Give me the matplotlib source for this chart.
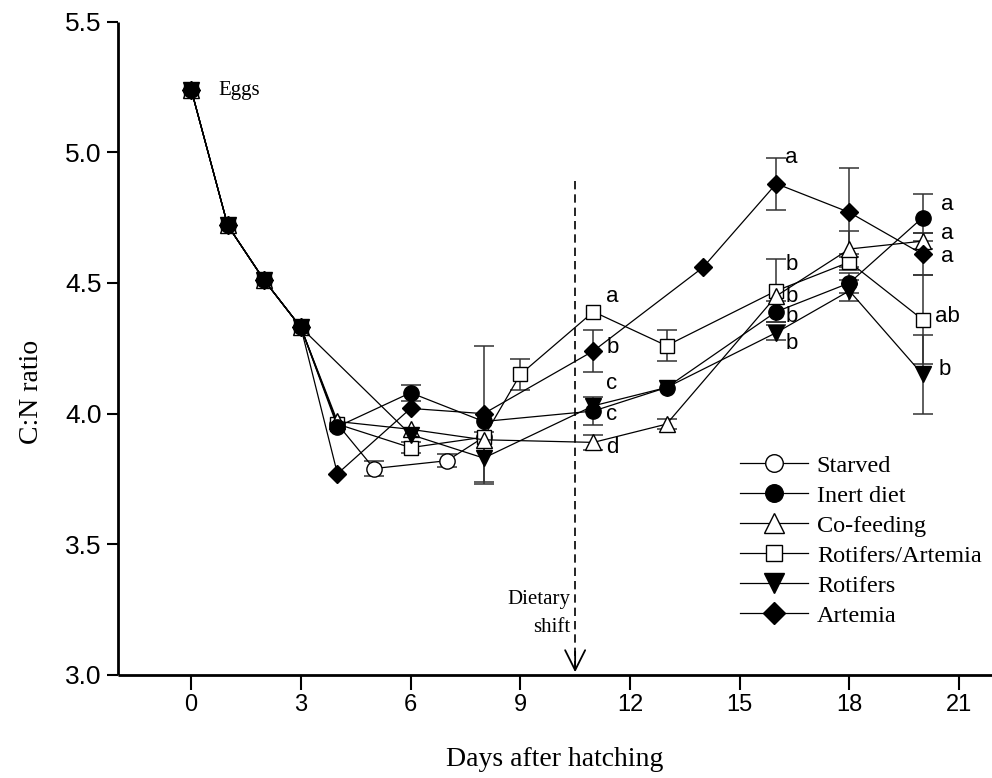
import matplotlib
matplotlib.use("Agg")
import matplotlib.pyplot as plt
import numpy as np

# ---------------- data ----------------
starved_x = [0, 1, 2, 3, 4, 5, 7, 8]
starved_y = [5.24, 4.72, 4.51, 4.33, 3.96, 3.79, 3.82, 3.91]
starved_e = [0, 0, 0, 0, 0, 0.03, 0.025, 0]

inert_x = [0, 1, 2, 3, 4, 6, 8, 11, 13, 16, 18, 20]
inert_y = [5.24, 4.72, 4.51, 4.33, 3.95, 4.08, 3.97, 4.01, 4.10, 4.39, 4.50, 4.75]
inert_e = [0, 0, 0, 0, 0, 0.03, 0, 0.055, 0, 0.04, 0.04, 0.09]

cofeed_x = [0, 1, 2, 3, 4, 6, 8, 11, 13, 16, 18, 20]
cofeed_y = [5.24, 4.72, 4.51, 4.33, 3.97, 3.94, 3.90, 3.89, 3.96, 4.45, 4.63, 4.66]
cofeed_e = [0, 0, 0, 0, 0, 0, 0, 0.03, 0.02, 0, 0.07, 0.03]

rotart_x = [0, 1, 2, 3, 4, 6, 8, 9, 11, 13, 16, 18, 20]
rotart_y = [5.24, 4.72, 4.51, 4.33, 3.96, 3.87, 3.91, 4.15, 4.39, 4.26, 4.47, 4.58, 4.36]
rotart_e = [0, 0, 0, 0, 0, 0.02, 0, 0.06, 0, 0.06, 0.12, 0.03, 0.17]

rotif_x = [0, 1, 2, 3, 6, 8, 11, 13, 16, 18, 20]
rotif_y = [5.24, 4.72, 4.51, 4.33, 3.92, 3.83, 4.03, 4.10, 4.31, 4.47, 4.15]
rotif_e = [0, 0, 0, 0, 0, 0.10, 0, 0, 0.03, 0.04, 0.15]

artem_x = [0, 1, 2, 3, 4, 6, 8, 11, 14, 16, 18, 20]
artem_y = [5.24, 4.72, 4.51, 4.33, 3.77, 4.02, 4.00, 4.24, 4.56, 4.88, 4.77, 4.61]
artem_e = [0, 0, 0, 0, 0, 0, 0.26, 0.08, 0, 0.10, 0.17, 0.08]

# significance letters
letters_x = [11.35, 11.35, 11.35, 11.35, 11.35,
             16.25, 16.25, 16.25, 16.25, 16.25,
             20.5, 20.5, 20.5, 20.35, 20.45]
letters_y = [4.45, 4.255, 4.115, 3.995, 3.87,
             4.98, 4.57, 4.45, 4.37, 4.27,
             4.80, 4.69, 4.60, 4.37, 4.17]
letters_t = ["a", "b", "c", "c", "d",
             "a", "b", "b", "b", "b",
             "a", "a", "a", "ab", "b"]

x_ticks = [0, 3, 6, 9, 12, 15, 18, 21]
y_ticks = [3.0, 3.5, 4.0, 4.5, 5.0, 5.5]

# ---------------- figure ----------------
fig = plt.figure(figsize=(9.92, 7.78), dpi=100)
ax = fig.add_axes([0.119, 0.1324, 0.881, 0.8398])

series = [
    ("Starved", starved_x, starved_y, starved_e, "o", "white", 11, 3.0),
    ("Inert diet", inert_x, inert_y, inert_e, "o", "black", 11, 3.6),
    ("Co-feeding", cofeed_x, cofeed_y, cofeed_e, "^", "white", 12, 3.4),
    ("Rotifers/Artemia", rotart_x, rotart_y, rotart_e, "s", "white", 10, 3.2),
    ("Rotifers", rotif_x, rotif_y, rotif_e, "v", "black", 12, 3.5),
    ("Artemia", artem_x, artem_y, artem_e, "D", "black", 9.5, 3.7),
]

for name, xs, ys, es, mk, fc, ms, z in series:
    es_arr = np.array(es, dtype=float)
    mask = es_arr > 0
    ax.errorbar(np.array(xs)[mask], np.array(ys)[mask], yerr=es_arr[mask],
                fmt="none", ecolor="#333333", elinewidth=1.1, capsize=7,
                capthick=1.1, zorder=2)
    ax.plot(xs, ys, color="black", lw=0.9, marker=mk, markersize=ms,
            markerfacecolor=fc, markeredgecolor="black", markeredgewidth=1.0,
            label=name, zorder=z)

for lx, ly, lt in zip(letters_x, letters_y, letters_t):
    ax.text(lx, ly, lt, fontsize=16, family="Liberation Sans",
            ha="left", va="center")

ax.text(0.75, 5.235, "Eggs", fontsize=15, family="Liberation Serif",
        ha="left", va="center")

# dietary shift
ax.plot([10.5, 10.5], [4.89, 3.02], color="black", lw=1.2,
        linestyle=(0, (5, 3)), zorder=1)
ax.annotate("", xy=(10.5, 3.0), xytext=(10.5, 3.1),
            arrowprops=dict(arrowstyle="->", lw=1.3, mutation_scale=36,
                            color="black"), zorder=4)
ax.text(10.38, 3.235, "Dietary\nshift", fontsize=15, family="Liberation Serif",
        ha="right", va="center", linespacing=1.6)

ax.set_xlim(-2, 21.9)
ax.set_ylim(3.0, 5.5)
ax.set_xticks(x_ticks)
ax.set_yticks(y_ticks)
ax.set_yticklabels([f"{v:.1f}" for v in y_ticks])
ax.tick_params(axis="both", direction="out", width=1.5)
ax.tick_params(axis="x", length=11, pad=3)
ax.tick_params(axis="y", length=8, pad=4)
for lab in ax.get_xticklabels():
    lab.set_family("Liberation Sans")
    lab.set_fontsize(17)
for lab in ax.get_yticklabels():
    lab.set_family("Liberation Sans")
    lab.set_fontsize(19)

for sp in ["top", "right"]:
    ax.spines[sp].set_visible(False)
for sp in ["left", "bottom"]:
    ax.spines[sp].set_linewidth(2)
    ax.spines[sp].set_capstyle("butt")

ax.set_xlabel("Days after hatching", fontsize=20, family="Liberation Serif",
              labelpad=22)
ax.set_ylabel("C:N ratio", fontsize=20, family="Liberation Serif")
ax.yaxis.set_label_coords(-0.085, 0.433)

leg = ax.legend(loc="upper left", bbox_to_anchor=(0.712, 0.337), frameon=False,
                prop={"family": "Liberation Serif", "size": 17.5},
                handlelength=2.8, handletextpad=0.35, labelspacing=0.33,
                borderaxespad=0, borderpad=0, markerscale=1.15)

fig.savefig("out.png", dpi=100)
